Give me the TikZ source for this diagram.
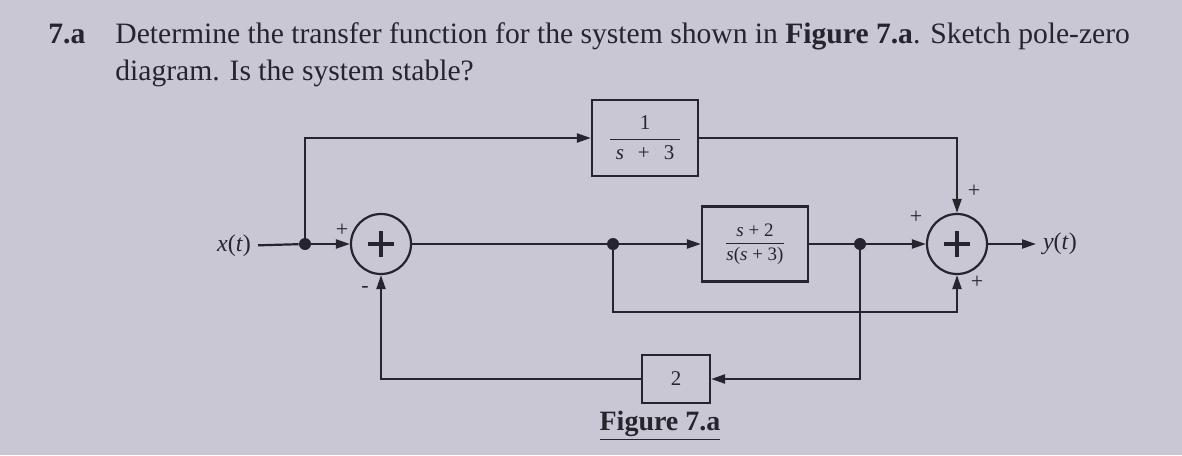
\documentclass[tikz,border=0pt]{standalone}
\usepackage{fontspec}
\setmainfont{Liberation Serif}
\usepackage{tikz}
\usetikzlibrary{
  arrows.meta,
  positioning,
  calc
}
\definecolor{paper}{RGB}{201,199,211}
\definecolor{ink}{RGB}{38,36,44}

\begin{document}
\begin{tikzpicture}[x=0.5pt, y=-0.5pt,
    ln/.style={draw=ink, line width=1.1pt},
    ar/.style={ln, -{Triangle[length=7pt,width=4.5pt]}},
    blk/.style={draw=ink, line width=1.1pt, minimum width=53pt, minimum height=38pt,
      inner sep=0pt, text=ink, font=\fontsize{10.5}{12}\selectfont},
    sm/.style={draw=ink, line width=1.1pt, circle, minimum size=30pt, inner sep=0pt,
      path picture={\draw[ink, line width=1.8pt]
        ($(path picture bounding box.center)+(-13,0)$) -- ++(26,0)
        ($(path picture bounding box.center)+(0,-13)$) -- ++(0,26);}},
    dt/.style={circle, fill=ink, minimum size=6pt, inner sep=0pt},
    sg/.style={text=ink, font=\fontsize{11}{12}\selectfont, inner sep=0pt},
    lb/.style={text=ink, font=\fontsize{12}{14}\selectfont},
    tt/.style={anchor=base west, text=ink, font=\fontsize{14.8}{18}\selectfont, inner sep=0pt}
  ]
    \fill[paper] (0,0) rectangle (1182,455);
    \useasboundingbox (0,0) rectangle (1182,455);
    % ---- question ----
    \node[tt, font=\fontsize{14.8}{18}\selectfont\bfseries] (num) at (48,43) {7.a};
    \node[tt] (q1) at (115,43)
      {Determine the transfer function for the system shown in \textbf{Figure 7.a}. Sketch pole-zero};
    \node[tt] (q2) at (115,80) {diagram. Is the system stable?};
    % ---- forward path ----
    \node[lb, anchor=east] (x) at (258,246) {\textit{x}(\textit{t})};
    \node[dt] (d1) at (305,244) {};
    \node[sm] (s1) at (381,244) {};
    \node[blk] (g1) at (645,138)
      {$\displaystyle\frac{\mbox{1}}{\mbox{\hspace{3pt}\textit{s}\hspace{7pt}+\hspace{7pt}3\hspace{3pt}}}$};
    \node[dt] (d2) at (613,244) {};
    \node[blk, minimum height=37.5pt, font=\fontsize{9.5}{11}\selectfont] (g2) at (755,244)
      {$\displaystyle\frac{\mbox{\textit{s} + 2}}{\mbox{\textit{s}(\textit{s} + 3)}}$};
    \node[dt] (d3) at (860,244) {};
    \node[sm] (s2) at (957,244) {};
    \node[lb, anchor=west] (y) at (1036,244) {\textit{y}(\textit{t})};
    \node[blk, minimum width=34pt, minimum height=24pt] (k) at (676,379) {2};
    % ---- signs ----
    \node[sg] (p1) at (342,230) {+};
    \node[sg] (m1) at (365,289) {-};
    \node[sg] (p2) at (974,191) {+};
    \node[sg] (p3) at (916,217) {+};
    \node[sg] (p4) at (977,282) {+};
    % ---- wires ----
    \draw[ln] (x) -- (d1);
    \draw[ar] (d1) -- (s1);
    \draw[ar] (d1) |- (g1);
    \draw[ar] (g1) -| (s2);
    \draw[ln] (s1) -- (d2);
    \draw[ar] (d2) -- (g2);
    \draw[ln] (g2) -- (d3);
    \draw[ar] (d3) -- (s2);
    \draw[ar] (d2) -- ++(0,68) -| (s2);
    \draw[ar] (d3) |- (k);
    \draw[ar] (k) -| (s1);
    \draw[ar] (s2) -- (y);
    % ---- caption ----
    \node[text=ink, font=\fontsize{14}{16}\selectfont\bfseries] (cap) at (660,426) {\underline{Figure 7.a}};
\end{tikzpicture}
\end{document}
